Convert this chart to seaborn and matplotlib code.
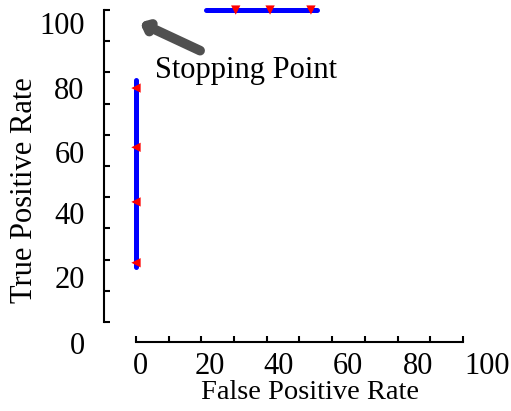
import numpy as np
import pandas as pd
import seaborn as sns
import matplotlib
matplotlib.use("Agg")
import matplotlib.pyplot as plt
from matplotlib.transforms import ScaledTranslation

# ---- data ----
seg1_fpr = [0, 0]
seg1_tpr = [17.5, 77.5]
seg1_pts_fpr = [0, 0, 0, 0]
seg1_pts_tpr = [19, 38.5, 56, 75]

seg2_fpr = [21.5, 55.5]
seg2_tpr = [100, 100]
seg2_pts_fpr = [30.5, 41, 53.5]
seg2_pts_tpr = [100, 100, 100]

arrow_head = (1.2, 96)
arrow_tail = (19.6, 87)
note_text = "Stopping Point"
note_pos = (5.8, 78.2)

x_major = [0, 20, 40, 60, 80, 100]
y_major = [0, 20, 40, 60, 80, 100]
x_label = "False Positive Rate"
y_label = "True Positive Rate"

sns.set_style("ticks")
plt.rcParams['font.family'] = ['Liberation Serif', 'DejaVu Serif']

FS = 22
fig = plt.figure(figsize=(5.11, 4.11), dpi=100)
ax = fig.add_axes([0.2661, 0.2165, 0.64, 0.759])

sns.lineplot(x=seg1_fpr, y=seg1_tpr, ax=ax, color="#0000ff", lw=3.6,
             sort=False, estimator=None, clip_on=False)
sns.lineplot(x=seg2_fpr, y=seg2_tpr, ax=ax, color="#0000ff", lw=3.6,
             sort=False, estimator=None, clip_on=False)
sns.scatterplot(x=seg1_pts_fpr, y=seg1_pts_tpr, ax=ax, color="#ff0000",
                marker="<", s=45, edgecolor="none", clip_on=False, zorder=5)
sns.scatterplot(x=seg2_pts_fpr, y=seg2_pts_tpr, ax=ax, color="#ff0000",
                marker="v", s=45, edgecolor="none", clip_on=False, zorder=5)

ax.annotate("", xy=arrow_head, xytext=arrow_tail, annotation_clip=False,
            arrowprops=dict(arrowstyle="-|>,head_length=0.35,head_width=0.3",
                            color="#505050", lw=7, shrinkA=0, shrinkB=0))
ax.text(note_pos[0], note_pos[1], note_text, fontsize=FS, ha="left",
        va="baseline", color="black")

ax.set_xlim(0, 100)
ax.set_ylim(0, 100)
ax.set_xticks(x_major)
ax.set_yticks(y_major)
ax.set_xticks(np.arange(10, 100, 20), minor=True)
ax.set_yticks(np.arange(10, 100, 20), minor=True)
ax.set_xticklabels([str(v) for v in x_major])
ax.set_yticklabels([str(v) for v in y_major])
ax.tick_params(which="both", direction="in", length=4, width=1.5,
               color="black", labelsize=FS, labelcolor="black")
ax.tick_params(axis="x", which="both", pad=7)
ax.tick_params(axis="y", which="both", pad=14)

sns.despine(ax=ax, offset={"left": 23, "bottom": 14.4}, trim=True)
for s in ("left", "bottom"):
    ax.spines[s].set_linewidth(1.5)
    ax.spines[s].set_color("black")

# shift tick labels like the reference
for i, lab in enumerate(ax.get_xticklabels()):
    lab.set_transform(lab.get_transform() +
                      ScaledTranslation((4 + 4 * i) / 100, 0, fig.dpi_scale_trans))
y_shift_px = [21, 17, 16, 17, 16, 13]
for lab, d in zip(ax.get_yticklabels(), y_shift_px):
    lab.set_transform(lab.get_transform() +
                      ScaledTranslation(0, -d / 100, fig.dpi_scale_trans))

ax.set_xlabel(x_label, fontsize=20.5, color="black")
ax.set_ylabel(y_label, fontsize=FS, color="black")
ax.xaxis.set_label_coords(0.532, -0.186)
ax.yaxis.set_label_coords(-0.297, 0.423)

fig.savefig("out.png", dpi=100, facecolor="white")
